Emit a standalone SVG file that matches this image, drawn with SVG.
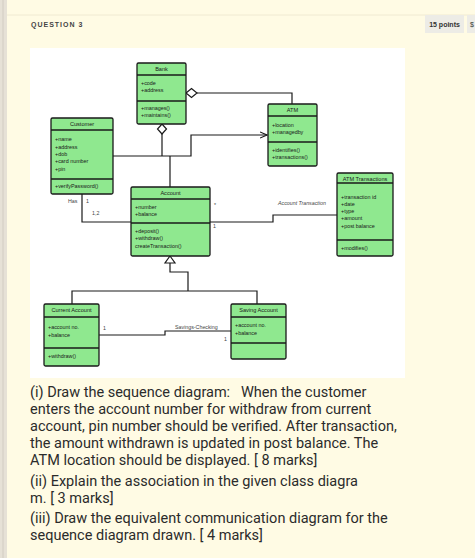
<svg xmlns="http://www.w3.org/2000/svg" width="475" height="558" viewBox="0 0 475 558">
<defs>
<style>
.cls{fill:#8fe88f;stroke:#1a1a1a;stroke-width:1.3}
.div{stroke:#1a1a1a;stroke-width:1.3}
.t{font-family:"Liberation Sans",Arial,sans-serif;font-size:5.4px;fill:#1a1a1a}
.tt{font-family:"Liberation Sans",Arial,sans-serif;font-size:5.6px;fill:#1a1a1a;text-anchor:middle}
.ln{fill:none;stroke:#1a1a1a;stroke-width:1.2}
.lbl{font-family:"Liberation Sans",Arial,sans-serif;font-size:5.3px;fill:#444}
.q{font-family:Roboto,"Liberation Sans",sans-serif;font-size:14.5px;fill:#2b2b2b;white-space:pre}
</style>
<marker id="arr" markerWidth="8" markerHeight="8" refX="7" refY="4" orient="auto" markerUnits="userSpaceOnUse">
<path d="M0,1 L7,4 L0,7" fill="none" stroke="#1a1a1a" stroke-width="1.1"/>
</marker>
</defs>
<rect x="0" y="0" width="475" height="558" fill="#fffbe4"/>
<rect x="0" y="0" width="7" height="558" fill="#e6e1d6"/>
<line x1="3" y1="0" x2="3" y2="558" stroke="#d2ccc2" stroke-width="1"/>
<line x1="7" y1="15" x2="475" y2="15" stroke="#f0ead2" stroke-width="1"/>
<text x="31" y="26.5" font-family="'Liberation Sans',Arial,sans-serif" font-size="7" font-weight="bold" letter-spacing="1" fill="#444">QUESTION 3</text>
<rect x="425" y="15" width="39" height="18" fill="#edece6"/>
<text x="444.5" y="26.5" font-family="'Liberation Sans',Arial,sans-serif" font-size="7" font-weight="bold" fill="#333" text-anchor="middle">15 points</text>
<rect x="467" y="15" width="8" height="18" fill="#edece6"/>
<text x="470" y="26.5" font-family="'Liberation Sans',Arial,sans-serif" font-size="7" fill="#333">$</text>
<rect x="30" y="48" width="375" height="330" fill="#ffffff"/>

<g id="connectors">
<path class="ln" d="M197,93 H292 V104"/>
<path d="M186,93 L191.5,88.5 L197,93 L191.5,97.5 Z" fill="#fff" stroke="#1a1a1a" stroke-width="1.2"/>
<path class="ln" d="M162,134 V156"/>
<path d="M162,124 L166.5,129 L162,134 L157.5,129 Z" fill="#fff" stroke="#1a1a1a" stroke-width="1.2"/>
<path class="ln" d="M113,156 H191 V135 H267" marker-end="url(#arr)"/>
<path class="ln" d="M170,156 V187"/>
<path class="ln" d="M82,194 V222 H131"/>
<path class="ln" d="M210,222 H273 V215 H337"/>
<path class="ln" d="M170,263 V272 H188 V291"/>
<path class="ln" d="M72,304 V291 H257 V304"/>
<path d="M170,256 L175,263 L165,263 Z" fill="#fff" stroke="#1a1a1a" stroke-width="1.2"/>
<path class="ln" d="M99,335 H165 V331 H231"/>
<text class="lbl" x="68" y="202.5">Has</text>
<text class="lbl" x="86" y="202.5">1</text>
<text class="lbl" x="92" y="214.5">1,2</text>
<text class="lbl" x="214" y="207">*</text>
<text class="lbl" x="213" y="228">1</text>
<text class="lbl" x="278" y="205" font-style="italic">Account Transaction</text>
<text class="lbl" x="103" y="330">1</text>
<text class="lbl" x="175" y="329">Savings-Checking</text>
<text class="lbl" x="224" y="341">1</text>
</g>

<g id="bank">
<rect class="cls" x="137" y="63" width="49" height="61" rx="1.5"/>
<line class="div" x1="137" y1="75" x2="186" y2="75"/>
<line class="div" x1="137" y1="101" x2="186" y2="101"/>
<text class="tt" x="161.5" y="71">Bank</text>
<text class="t" x="141" y="85">+code</text>
<text class="t" x="141" y="92">+address</text>
<text class="t" x="141" y="110">+manages()</text>
<text class="t" x="141" y="117">+maintains()</text>
</g>

<g id="atm">
<rect class="cls" x="268" y="104" width="49" height="62" rx="1.5"/>
<line class="div" x1="268" y1="116" x2="317" y2="116"/>
<line class="div" x1="268" y1="142" x2="317" y2="142"/>
<text class="tt" x="292.5" y="112">ATM</text>
<text class="t" x="272" y="127">+location</text>
<text class="t" x="272" y="134">+managedby</text>
<text class="t" x="272" y="152">+identifies()</text>
<text class="t" x="272" y="159">+transactions()</text>
</g>

<g id="customer">
<rect class="cls" x="51" y="118" width="62" height="76" rx="1.5"/>
<line class="div" x1="51" y1="130" x2="113" y2="130"/>
<line class="div" x1="51" y1="179" x2="113" y2="179"/>
<text class="tt" x="82" y="126">Customer</text>
<text class="t" x="55" y="141">+name</text>
<text class="t" x="55" y="148.5">+address</text>
<text class="t" x="55" y="156">+dob</text>
<text class="t" x="55" y="163">+card number</text>
<text class="t" x="55" y="170.5">+pin</text>
<text class="t" x="55" y="188">+verifyPassword()</text>
</g>

<g id="account">
<rect class="cls" x="131" y="187" width="79" height="69" rx="1.5"/>
<line class="div" x1="131" y1="199" x2="210" y2="199"/>
<line class="div" x1="131" y1="223" x2="210" y2="223"/>
<text class="tt" x="170.5" y="195">Account</text>
<text class="t" x="135" y="209">+number</text>
<text class="t" x="135" y="216">+balance</text>
<text class="t" x="135" y="233">+deposit()</text>
<text class="t" x="135" y="240">+withdraw()</text>
<text class="t" x="135" y="248">createTransaction()</text>
</g>

<g id="atm-transactions">
<rect class="cls" x="337" y="173" width="56" height="83" rx="1.5"/>
<line class="div" x1="337" y1="183" x2="393" y2="183"/>
<line class="div" x1="337" y1="240" x2="393" y2="240"/>
<text class="tt" x="365" y="180.5">ATM Transactions</text>
<text class="t" x="341" y="199">+transaction id</text>
<text class="t" x="341" y="206">+date</text>
<text class="t" x="341" y="213">+type</text>
<text class="t" x="341" y="220">+amount</text>
<text class="t" x="341" y="228">+post balance</text>
<text class="t" x="341" y="250">+modifies()</text>
</g>

<g id="current-account">
<rect class="cls" x="44" y="304" width="55" height="62" rx="1.5"/>
<line class="div" x1="44" y1="317" x2="99" y2="317"/>
<line class="div" x1="44" y1="348" x2="99" y2="348"/>
<text class="tt" x="71.5" y="312">Current Account</text>
<text class="t" x="48" y="329">+account no.</text>
<text class="t" x="48" y="336.5">+balance</text>
<text class="t" x="48" y="358">+withdraw()</text>
</g>

<g id="saving-account">
<rect class="cls" x="231" y="304" width="55" height="55" rx="1.5"/>
<line class="div" x1="231" y1="317" x2="286" y2="317"/>
<line class="div" x1="231" y1="343" x2="286" y2="343"/>
<text class="tt" x="258.5" y="312">Saving Account</text>
<text class="t" x="235" y="327">+account no.</text>
<text class="t" x="235" y="334.5">+balance</text>
</g>

<g id="question-text">
<text class="q" x="30" y="397" xml:space="preserve">(i) Draw the sequence diagram:   When the customer</text>
<text class="q" x="30" y="414">enters the account number for withdraw from current</text>
<text class="q" x="30" y="431">account, pin number should be verified. After transaction,</text>
<text class="q" x="30" y="448">the amount withdrawn is updated in post balance. The</text>
<text class="q" x="30" y="465">ATM location should be displayed. [ 8 marks]</text>
<text class="q" x="30" y="486">(ii) Explain the association in the given class diagra</text>
<text class="q" x="30" y="503">m. [ 3 marks]</text>
<text class="q" x="30" y="523">(iii) Draw the equivalent communication diagram for the</text>
<text class="q" x="30" y="540">sequence diagram drawn. [ 4 marks]</text>
</g>
</svg>
